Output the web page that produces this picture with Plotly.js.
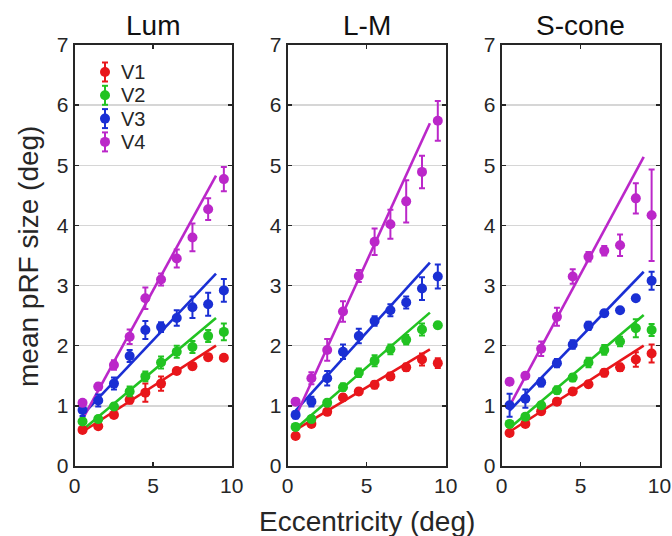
<!DOCTYPE html>
<html>
<head>
<meta charset="utf-8">
<script src="https://cdn.plot.ly/plotly-3.0.1.min.js"></script>
<style>html,body{margin:0;padding:0;background:#fff;}#chart{width:672px;height:536px;}</style>
</head>
<body>
<div id="chart"></div>
<script>
// ---- data ----
const ecc = [0.5, 1.5, 2.5, 3.5, 4.5, 5.5, 6.5, 7.5, 8.5, 9.5];
const fitX = [0.5, 9];
const areas = ["V1", "V2", "V3", "V4"];
const panels = ["Lum", "L-M", "S-cone"];

// Lum
const lumV1 = [0.60, 0.66, 0.85, 1.10, 1.22, 1.37, 1.58, 1.66, 1.81, 1.80];
const lumV1err = [0.04, 0.04, 0.05, 0.06, 0.15, 0.12, 0.05, 0.05, 0.05, 0.03];
const lumV2 = [0.74, 0.78, 0.99, 1.24, 1.49, 1.72, 1.90, 1.98, 2.16, 2.23];
const lumV2err = [0.05, 0.05, 0.05, 0.08, 0.08, 0.10, 0.10, 0.10, 0.10, 0.14];
const lumV3 = [0.93, 1.09, 1.37, 1.83, 2.26, 2.31, 2.46, 2.64, 2.69, 2.92];
const lumV3err = [0.10, 0.10, 0.10, 0.10, 0.15, 0.08, 0.13, 0.18, 0.19, 0.19];
const lumV4 = [1.05, 1.32, 1.68, 2.15, 2.79, 3.10, 3.45, 3.80, 4.27, 4.77];
const lumV4err = [0.04, 0.05, 0.08, 0.12, 0.18, 0.10, 0.15, 0.23, 0.18, 0.20];
const lumFit = [[0.57, 2.00], [0.60, 2.46], [0.85, 3.20], [0.78, 4.83]];

// L-M
const lmV1 = [0.50, 0.70, 0.90, 1.14, 1.24, 1.35, 1.49, 1.64, 1.77, 1.71];
const lmV1err = [0.04, 0.04, 0.05, 0.05, 0.05, 0.06, 0.06, 0.06, 0.10, 0.08];
const lmV2 = [0.65, 0.78, 1.05, 1.31, 1.55, 1.75, 1.94, 2.10, 2.27, 2.34];
const lmV2err = [0.05, 0.05, 0.05, 0.06, 0.07, 0.09, 0.08, 0.08, 0.10, 0.05];
const lmV3 = [0.85, 1.07, 1.46, 1.90, 2.16, 2.41, 2.59, 2.72, 2.95, 3.15];
const lmV3err = [0.06, 0.08, 0.12, 0.12, 0.12, 0.08, 0.10, 0.10, 0.19, 0.20];
const lmV4 = [1.07, 1.46, 1.93, 2.57, 3.16, 3.73, 4.02, 4.40, 4.89, 5.74];
const lmV4err = [0.05, 0.10, 0.18, 0.17, 0.10, 0.22, 0.24, 0.35, 0.27, 0.33];
const lmFit = [[0.60, 1.94], [0.62, 2.55], [0.92, 3.38], [0.82, 5.70]];

// S-cone
const sV1 = [0.55, 0.70, 0.91, 1.07, 1.24, 1.36, 1.55, 1.64, 1.77, 1.87];
const sV1err = [0.04, 0.04, 0.05, 0.05, 0.05, 0.05, 0.06, 0.06, 0.12, 0.15];
const sV2 = [0.70, 0.82, 1.01, 1.26, 1.47, 1.72, 1.93, 2.07, 2.29, 2.26];
const sV2err = [0.05, 0.05, 0.05, 0.06, 0.06, 0.08, 0.08, 0.08, 0.15, 0.10];
const sV3 = [1.01, 1.12, 1.39, 1.71, 2.02, 2.33, 2.54, 2.59, 2.79, 3.08];
const sV3err = [0.19, 0.15, 0.07, 0.07, 0.07, 0.07, 0.05, 0.04, 0.04, 0.15];
const sV4 = [1.40, 1.50, 1.95, 2.48, 3.15, 3.48, 3.58, 3.67, 4.45, 4.17];
const sV4err = [0.05, 0.05, 0.12, 0.15, 0.12, 0.08, 0.08, 0.18, 0.25, 0.76];
const sFit = [[0.57, 2.00], [0.63, 2.51], [0.92, 3.23], [1.00, 5.14]];

const colors = ["#e8161b", "#22c322", "#1a2fd4", "#bb27c9"];

const panelData = [
  {means: [lumV1, lumV2, lumV3, lumV4], errs: [lumV1err, lumV2err, lumV3err, lumV4err], fits: lumFit},
  {means: [lmV1, lmV2, lmV3, lmV4], errs: [lmV1err, lmV2err, lmV3err, lmV4err], fits: lmFit},
  {means: [sV1, sV2, sV3, sV4], errs: [sV1err, sV2err, sV3err, sV4err], fits: sFit}
];

// ---- geometry (pixels) ----
const W = 672, H = 536;
const px = v => v / W, py = v => 1 - v / H;
const xDomPx = [[74.7, 231.7], [287.7, 445.7], [501.7, 659.5]];
const yDomPx = [466, 45];

const traces = [];
panelData.forEach((pd, p) => {
  const xa = p === 0 ? "x" : "x" + (p + 1);
  const ya = p === 0 ? "y" : "y" + (p + 1);
  areas.forEach((a, k) => {
    traces.push({
      type: "scatter", mode: "lines", x: fitX, y: pd.fits[k],
      xaxis: xa, yaxis: ya, showlegend: false, hoverinfo: "skip",
      line: {color: colors[k], width: 2.6}
    });
  });
  areas.forEach((a, k) => {
    traces.push({
      type: "scatter", mode: "markers", name: a, x: ecc, y: pd.means[k],
      xaxis: xa, yaxis: ya, showlegend: false,
      marker: {color: colors[k], size: 10, line: {width: 0}},
      error_y: {type: "data", array: pd.errs[k], visible: true, color: colors[k], thickness: 2, width: 3}
    });
  });
});

const font = "Liberation Sans, Arial, sans-serif";
const layout = {
  width: W, height: H,
  margin: {l: 0, r: 0, t: 0, b: 0},
  paper_bgcolor: "#ffffff", plot_bgcolor: "#ffffff",
  font: {family: font, color: "#262626", size: 20},
  showlegend: false,
  annotations: [],
  shapes: []
};

panels.forEach((name, p) => {
  const sfx = p === 0 ? "" : String(p + 1);
  layout["xaxis" + sfx] = {
    domain: [px(xDomPx[p][0]), px(xDomPx[p][1])],
    anchor: "y" + sfx,
    range: [0, 10], tickvals: [0, 5, 10], ticktext: ["0", "5", "10"],
    ticks: "inside", ticklen: 4, tickwidth: 1.5, tickcolor: "#262626",
    showline: true, linewidth: 2, linecolor: "#262626", mirror: "ticks",
    showgrid: false, zeroline: false,
    tickfont: {family: font, size: 21, color: "#262626"}
  };
  layout["yaxis" + sfx] = {
    domain: [py(yDomPx[0]), py(yDomPx[1])],
    anchor: "x" + sfx,
    range: [0, 7], tickvals: [0, 1, 2, 3, 4, 5, 6, 7],
    ticks: "inside", ticklen: 4, tickwidth: 1.5, tickcolor: "#262626",
    showline: true, linewidth: 2, linecolor: "#262626", mirror: "ticks",
    showgrid: true, gridcolor: "#d6d6d6", gridwidth: 1.5, zeroline: false,
    tickfont: {family: font, size: 21, color: "#262626"}
  };
  layout.annotations.push({
    text: name, xref: "paper", yref: "paper",
    x: px((xDomPx[p][0] + xDomPx[p][1]) / 2), y: py(25),
    xanchor: "center", yanchor: "middle", showarrow: false,
    font: {family: font, size: 28, color: "#111111"}
  });
});

// legend (inside the first panel, MATLAB style: marker with error bar)
const legX = 105, legY0 = 72, legDy = 23.3;
areas.forEach((a, k) => {
  const yc = legY0 + k * legDy;
  const c = colors[k];
  layout.shapes.push({type: "line", xref: "paper", yref: "paper",
    x0: px(legX), x1: px(legX), y0: py(yc - 9.5), y1: py(yc + 9.5), line: {color: c, width: 2}});
  layout.shapes.push({type: "line", xref: "paper", yref: "paper",
    x0: px(legX - 3), x1: px(legX + 3), y0: py(yc - 9.5), y1: py(yc - 9.5), line: {color: c, width: 2}});
  layout.shapes.push({type: "line", xref: "paper", yref: "paper",
    x0: px(legX - 3), x1: px(legX + 3), y0: py(yc + 9.5), y1: py(yc + 9.5), line: {color: c, width: 2}});
  layout.shapes.push({type: "circle", xref: "paper", yref: "paper",
    x0: px(legX - 5), x1: px(legX + 5), y0: py(yc + 5), y1: py(yc - 5),
    fillcolor: c, line: {width: 0}});
  layout.annotations.push({
    text: a, xref: "paper", yref: "paper", x: px(119), y: py(yc),
    xanchor: "left", yanchor: "middle", showarrow: false,
    font: {family: font, size: 20, color: "#262626"}
  });
});

layout.annotations.push({
  text: "mean pRF size (deg)", xref: "paper", yref: "paper",
  x: px(28), y: py(257), xanchor: "center", yanchor: "middle",
  textangle: -90, showarrow: false,
  font: {family: font, size: 28, color: "#262626"}
});
layout.annotations.push({
  text: "Eccentricity (deg)", xref: "paper", yref: "paper",
  x: px(367), y: py(521), xanchor: "center", yanchor: "middle",
  showarrow: false,
  font: {family: font, size: 28, color: "#262626"}
});

Plotly.newPlot("chart", traces, layout, {displayModeBar: false, staticPlot: true});
</script>
</body>
</html>
